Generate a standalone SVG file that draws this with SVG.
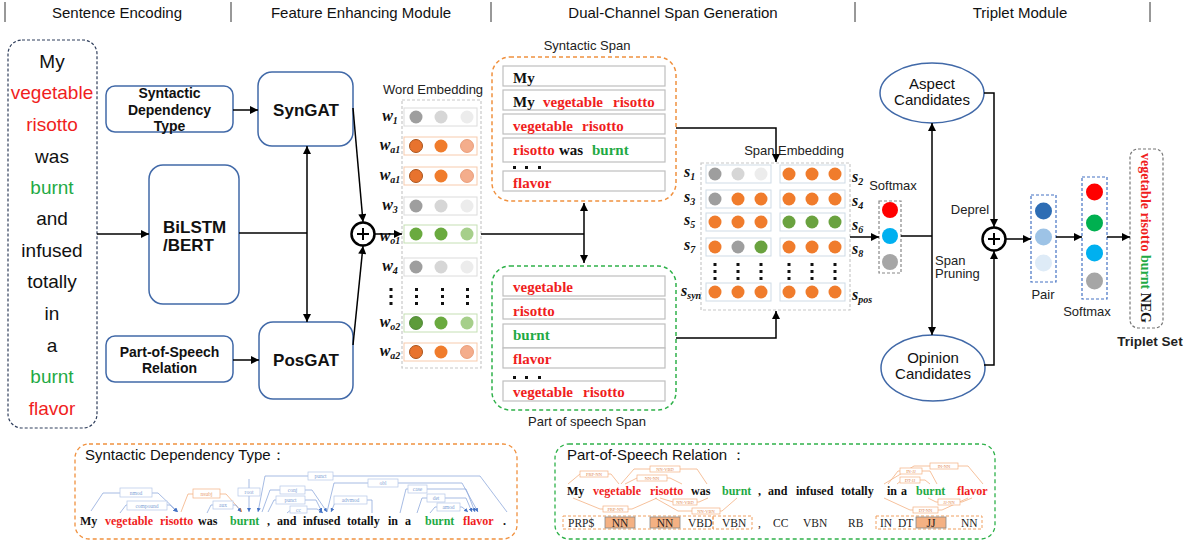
<svg xmlns="http://www.w3.org/2000/svg" width="1193" height="542" viewBox="0 0 1193 542">
<style>
.hdr{font-family:'Liberation Sans',Arial,sans-serif;font-size:15px;fill:#111;text-anchor:middle}
.sep{stroke:#333;stroke-width:1}
.w{font-family:'Liberation Sans',Arial,sans-serif;font-size:19px;text-anchor:middle;fill:#111}
.box{fill:#fff;stroke:#4169a8;stroke-width:1.5}
.bl{font-family:'Liberation Sans',Arial,sans-serif;font-weight:bold;font-size:14px;text-anchor:middle;fill:#111}
.big{font-family:'Liberation Sans',Arial,sans-serif;font-weight:bold;font-size:17px;text-anchor:middle;fill:#111}
.t13{font-family:'Liberation Sans',Arial,sans-serif;font-size:13px;text-anchor:middle;fill:#222}
.t15{font-family:'Liberation Sans',Arial,sans-serif;font-size:15px;text-anchor:middle;fill:#111}
.conn{stroke:#000;stroke-width:1.5;fill:none}
.sp{font-family:'Liberation Serif','Times New Roman',serif;font-weight:bold;font-size:15px;fill:#111}
.row{fill:#fff;stroke:#bfbfbf;stroke-width:1.2}
.wl{font-family:'Liberation Serif','Times New Roman',serif;font-style:italic;font-weight:bold;font-size:16px;text-anchor:middle;fill:#111}
.sl{font-family:'Liberation Serif','Times New Roman',serif;font-style:italic;font-weight:bold;font-size:16px;fill:#111}
.sub{font-size:10px}
.dot{fill:#111}
.g1{fill:#9e9e9e}.g2{fill:#d6d6d6}.g3{fill:#ececec}
.o1{fill:#e8732e;stroke:#a9541c;stroke-width:1}.o2{fill:#f07c2c}.o3{fill:#f4ad8c;stroke:#e5906a;stroke-width:0.8}
.n1{fill:#5d9b3a;stroke:#3e7a25;stroke-width:0.8}.n2{fill:#6aaa3f}.n3{fill:#a6cf8a}
.or{fill:#f07c2c}.gr{fill:#6aa23f}
.rg{fill:#fff;stroke:#dcdcdc;stroke-width:1}
.ro{fill:#fff;stroke:#f8cbad;stroke-width:1}
.rn{fill:#fff;stroke:#c5e0b4;stroke-width:1}
.rs{fill:#fff;stroke:#cfdbe6;stroke-width:1}
.dash{fill:none;stroke:#c8c8c8;stroke-width:1.2;stroke-dasharray:3,2}
.bs{font-family:'Liberation Serif','Times New Roman',serif;font-weight:bold;font-size:12px;fill:#111}
.dep{fill:none;stroke:#8faadc;stroke-width:0.8}
.depo{fill:none;stroke:#f4b183;stroke-width:0.8}
.dbx{fill:#fff;stroke:#b4c7e7;stroke-width:0.7}
.dbo{fill:#fff;stroke:#f4b183;stroke-width:0.7}
.dt{font-family:'Liberation Serif',serif;font-size:5.5px;fill:#7f9fd5;text-anchor:middle}
.dto{font-family:'Liberation Serif',serif;font-size:4.5px;fill:#e08850;text-anchor:middle}
.tag{font-family:'Liberation Serif','Times New Roman',serif;font-size:11.5px;fill:#222}
text.red,tspan.red{fill:#f01e1e}
text.grn,tspan.grn{fill:#1faa45}
text.blk,tspan.blk{fill:#111}
</style>
<defs>
<marker id="ah" viewBox="0 0 10 10" refX="10" refY="5" markerUnits="userSpaceOnUse" markerWidth="9" markerHeight="8" orient="auto-start-reverse"><path d="M0,0 L10,5 L0,10 z" fill="#000"/></marker>
<marker id="ahb" viewBox="0 0 10 10" refX="10" refY="5" markerUnits="userSpaceOnUse" markerWidth="4" markerHeight="4" orient="auto"><path d="M0,0 L10,5 L0,10 z" fill="#4472c4"/></marker>
<marker id="aho" viewBox="0 0 10 10" refX="10" refY="5" markerUnits="userSpaceOnUse" markerWidth="4" markerHeight="4" orient="auto"><path d="M0,0 L10,5 L0,10 z" fill="#ed7d31"/></marker>
</defs>
<rect width="1193" height="542" fill="#fff"/>

<g id="header">
<line class="sep" x1="5" y1="2" x2="5" y2="22"/>
<line class="sep" x1="231" y1="2" x2="231" y2="22"/>
<line class="sep" x1="491" y1="2" x2="491" y2="22"/>
<line class="sep" x1="855" y1="2" x2="855" y2="22"/>
<line class="sep" x1="1150" y1="2" x2="1150" y2="22"/>
<text class="hdr" x="117" y="18">Sentence Encoding</text>
<text class="hdr" x="361" y="18">Feature Enhancing Module</text>
<text class="hdr" x="673" y="18">Dual-Channel Span Generation</text>
<text class="hdr" x="1020" y="18">Triplet Module</text>
</g>

<g id="sentence">
<rect x="8" y="40" width="89" height="388" rx="14" fill="none" stroke="#2f3e5c" stroke-width="1.2" stroke-dasharray="3,2"/>
<text class="w" x="52" y="68">My</text>
<text class="w red" x="52" y="99">vegetable</text>
<text class="w red" x="52" y="131">risotto</text>
<text class="w" x="52" y="163">was</text>
<text class="w grn" x="52" y="194">burnt</text>
<text class="w" x="52" y="225">and</text>
<text class="w" x="52" y="257">infused</text>
<text class="w" x="52" y="288">totally</text>
<text class="w" x="52" y="320">in</text>
<text class="w" x="52" y="352">a</text>
<text class="w grn" x="52" y="383">burnt</text>
<text class="w red" x="52" y="415">flavor</text>
</g>

<g id="sdt">
<rect class="box" x="106" y="86" width="127" height="46" rx="9"/>
<text class="bl" x="169.5" y="98">Syntactic</text>
<text class="bl" x="169.5" y="115">Dependency</text>
<text class="bl" x="169.5" y="131">Type</text>
</g>
<g id="bilstm">
<rect class="box" x="149" y="165" width="90" height="139" rx="14"/>
<text class="big" x="163" y="233" style="text-anchor:start">BiLSTM</text>
<text class="big" x="163" y="251" style="text-anchor:start">/BERT</text>
</g>
<g id="posr">
<rect class="box" x="106" y="336" width="127" height="46" rx="9"/>
<text class="bl" x="169.5" y="357">Part-of-Speech</text>
<text class="bl" x="169.5" y="373">Relation</text>
</g>
<g id="syngat">
<rect class="box" x="258" y="72" width="95" height="74" rx="14"/>
<text class="big" x="306" y="116">SynGAT</text>
</g>
<g id="posgat">
<rect class="box" x="259" y="322" width="94" height="77" rx="14"/>
<text class="big" x="306" y="366">PosGAT</text>
</g>

<g id="plus1">
<circle cx="363" cy="234" r="11.5" fill="#fff" stroke="#000" stroke-width="2.5"/>
<path d="M357,234 H369 M363,228 V240" stroke="#000" stroke-width="2"/>
</g>

<g id="wordemb">
<text class="t13" x="433" y="94">Word Embedding</text>
<rect class="dash" x="402" y="100" width="79" height="268"/>
<rect class="rg" x="404" y="108" width="73" height="18"/>
<circle class="g1" cx="416" cy="117" r="6.5"/><circle class="g2" cx="441" cy="117" r="6.5"/><circle class="g3" cx="467" cy="117" r="6.5"/>
<rect class="ro" x="404" y="137" width="73" height="18"/>
<circle class="o1" cx="416" cy="146" r="6.5"/><circle class="o2" cx="441" cy="146" r="6.5"/><circle class="o3" cx="467" cy="146" r="6.5"/>
<rect class="ro" x="404" y="167" width="73" height="18"/>
<circle class="o1" cx="416" cy="176" r="6.5"/><circle class="o2" cx="441" cy="176" r="6.5"/><circle class="o3" cx="467" cy="176" r="6.5"/>
<rect class="rg" x="404" y="197" width="73" height="18"/>
<circle class="g1" cx="416" cy="206" r="6.5"/><circle class="g2" cx="441" cy="206" r="6.5"/><circle class="g3" cx="467" cy="206" r="6.5"/>
<rect class="rn" x="404" y="225" width="73" height="18"/>
<circle class="n2" cx="416" cy="234" r="6.5"/><circle class="n2" cx="441" cy="234" r="6.5"/><circle class="n3" cx="467" cy="234" r="6.5"/>
<rect class="rg" x="404" y="258" width="73" height="18"/>
<circle class="g1" cx="416" cy="267" r="6.5"/><circle class="g2" cx="441" cy="267" r="6.5"/><circle class="g3" cx="467" cy="267" r="6.5"/>
<g class="dot">
<rect x="389.5" y="288" width="3" height="3"/><rect x="389.5" y="295" width="3" height="3"/><rect x="389.5" y="302" width="3" height="3"/>
<rect x="415" y="288" width="3" height="3"/><rect x="415" y="295" width="3" height="3"/><rect x="415" y="302" width="3" height="3"/>
<rect x="441" y="288" width="3" height="3"/><rect x="441" y="295" width="3" height="3"/><rect x="441" y="302" width="3" height="3"/>
<rect x="466" y="288" width="3" height="3"/><rect x="466" y="295" width="3" height="3"/><rect x="466" y="302" width="3" height="3"/>
</g>
<rect class="rn" x="404" y="314" width="73" height="18"/>
<circle class="n1" cx="416" cy="323" r="6.5"/><circle class="n2" cx="441" cy="323" r="6.5"/><circle class="n3" cx="467" cy="323" r="6.5"/>
<rect class="ro" x="404" y="343" width="73" height="18"/>
<circle class="o1" cx="416" cy="352" r="6.5"/><circle class="o2" cx="441" cy="352" r="6.5"/><circle class="o3" cx="467" cy="352" r="6.5"/>
<text class="wl" x="390" y="121">w<tspan class="sub" dy="3">1</tspan></text>
<text class="wl" x="390" y="150">w<tspan class="sub" dy="3">a1</tspan></text>
<text class="wl" x="390" y="180">w<tspan class="sub" dy="3">a1</tspan></text>
<text class="wl" x="390" y="210">w<tspan class="sub" dy="3">3</tspan></text>
<text class="wl" x="390" y="241">w<tspan class="sub" dy="3">o1</tspan></text>
<text class="wl" x="390" y="271">w<tspan class="sub" dy="3">4</tspan></text>
<text class="wl" x="390" y="327">w<tspan class="sub" dy="3">o2</tspan></text>
<text class="wl" x="390" y="356">w<tspan class="sub" dy="3">a2</tspan></text>
</g>

<g id="synspan">
<text class="t13" x="587" y="50">Syntactic Span</text>
<rect x="492" y="57" width="184" height="144" rx="18" fill="none" stroke="#f0913f" stroke-width="1.5" stroke-dasharray="4,3"/>
<rect class="row" x="503" y="66" width="162" height="20"/>
<rect class="row" x="503" y="90" width="162" height="20"/>
<rect class="row" x="503" y="114" width="162" height="20"/>
<rect class="row" x="503" y="138" width="162" height="24"/>
<rect class="row" x="503" y="171" width="162" height="20"/>
<text class="sp" x="513" y="83">My</text>
<text class="sp" x="513" y="107">My</text><text class="sp red" x="543" y="107">vegetable</text><text class="sp red" x="613" y="107">risotto</text>
<text class="sp red" x="513" y="131">vegetable</text><text class="sp red" x="582" y="131">risotto</text>
<text class="sp red" x="513" y="155">risotto</text><text class="sp" x="559" y="155">was</text><text class="sp grn" x="592" y="155">burnt</text>
<g class="dot"><rect x="513" y="166" width="3" height="3"/><rect x="525" y="166" width="3" height="3"/><rect x="538" y="166" width="3" height="3"/></g>
<text class="sp red" x="513" y="188">flavor</text>
</g>

<g id="posspan">
<rect x="492" y="266" width="184" height="144" rx="18" fill="none" stroke="#2fb14a" stroke-width="1.5" stroke-dasharray="4,3"/>
<rect class="row" x="503" y="276" width="162" height="20"/>
<rect class="row" x="503" y="299" width="162" height="20"/>
<rect class="row" x="503" y="324" width="162" height="24"/>
<rect class="row" x="503" y="348" width="162" height="20"/>
<rect class="row" x="503" y="381" width="162" height="20"/>
<text class="sp red" x="513" y="292">vegetable</text>
<text class="sp red" x="513" y="316">risotto</text>
<text class="sp grn" x="513" y="340">burnt</text>
<text class="sp red" x="513" y="364">flavor</text>
<g class="dot"><rect x="513" y="376" width="3" height="3"/><rect x="525" y="376" width="3" height="3"/><rect x="538" y="376" width="3" height="3"/></g>
<text class="sp red" x="513" y="397">vegetable</text><text class="sp red" x="583" y="397">risotto</text>
<text class="t13" x="587" y="426">Part of speech Span</text>
</g>

<g id="spanemb">
<text class="t13" x="794" y="155">Span Embedding</text>
<rect class="dash" x="701" y="163" width="149" height="147"/>
<rect class="rs" x="706" y="165" width="65" height="18"/><rect class="rs" x="780" y="165" width="65" height="18"/>
<circle class="g1" cx="715" cy="174" r="6.5"/><circle class="g2" cx="738" cy="174" r="6.5"/><circle class="g3" cx="761" cy="174" r="6.5"/>
<circle class="or" cx="789" cy="174" r="6.5"/><circle class="or" cx="812" cy="174" r="6.5"/><circle class="or" cx="835" cy="174" r="6.5"/>
<rect class="rs" x="706" y="190" width="65" height="18"/><rect class="rs" x="780" y="190" width="65" height="18"/>
<circle class="g1" cx="715" cy="199" r="6.5"/><circle class="or" cx="738" cy="199" r="6.5"/><circle class="or" cx="761" cy="199" r="6.5"/>
<circle class="or" cx="789" cy="199" r="6.5"/><circle class="or" cx="812" cy="199" r="6.5"/><circle class="or" cx="835" cy="199" r="6.5"/>
<rect class="rs" x="706" y="213" width="65" height="18"/><rect class="rs" x="780" y="213" width="65" height="18"/>
<circle class="or" cx="715" cy="222" r="6.5"/><circle class="or" cx="738" cy="222" r="6.5"/><circle class="or" cx="761" cy="222" r="6.5"/>
<circle class="gr" cx="789" cy="222" r="6.5"/><circle class="gr" cx="812" cy="222" r="6.5"/><circle class="gr" cx="835" cy="222" r="6.5"/>
<rect class="rs" x="706" y="238" width="65" height="18"/><rect class="rs" x="780" y="238" width="65" height="18"/>
<circle class="or" cx="715" cy="247" r="6.5"/><circle class="g1" cx="738" cy="247" r="6.5"/><circle class="gr" cx="761" cy="247" r="6.5"/>
<circle class="or" cx="789" cy="247" r="6.5"/><circle class="or" cx="812" cy="247" r="6.5"/><circle class="or" cx="835" cy="247" r="6.5"/>
<g class="dot">
<rect x="713.5" y="263" width="3" height="3"/><rect x="713.5" y="270" width="3" height="3"/><rect x="713.5" y="277" width="3" height="3"/>
<rect x="736.5" y="263" width="3" height="3"/><rect x="736.5" y="270" width="3" height="3"/><rect x="736.5" y="277" width="3" height="3"/>
<rect x="759.5" y="263" width="3" height="3"/><rect x="759.5" y="270" width="3" height="3"/><rect x="759.5" y="277" width="3" height="3"/>
<rect x="787.5" y="263" width="3" height="3"/><rect x="787.5" y="270" width="3" height="3"/><rect x="787.5" y="277" width="3" height="3"/>
<rect x="810.5" y="263" width="3" height="3"/><rect x="810.5" y="270" width="3" height="3"/><rect x="810.5" y="277" width="3" height="3"/>
<rect x="833.5" y="263" width="3" height="3"/><rect x="833.5" y="270" width="3" height="3"/><rect x="833.5" y="277" width="3" height="3"/>
</g>
<rect class="rs" x="706" y="283" width="65" height="18"/><rect class="rs" x="780" y="283" width="65" height="18"/>
<circle class="or" cx="715" cy="292" r="6.5"/><circle class="or" cx="738" cy="292" r="6.5"/><circle class="or" cx="761" cy="292" r="6.5"/>
<circle class="or" cx="789" cy="292" r="6.5"/><circle class="or" cx="812" cy="292" r="6.5"/><circle class="or" cx="835" cy="292" r="6.5"/>
<text class="sl" x="684" y="177">s<tspan class="sub" dy="3">1</tspan></text>
<text class="sl" x="684" y="202">s<tspan class="sub" dy="3">3</tspan></text>
<text class="sl" x="684" y="225">s<tspan class="sub" dy="3">5</tspan></text>
<text class="sl" x="684" y="250">s<tspan class="sub" dy="3">7</tspan></text>
<text class="sl" x="681" y="296">s<tspan class="sub" dy="3">syn</tspan></text>
<text class="sl" x="852" y="182">s<tspan class="sub" dy="3">2</tspan></text>
<text class="sl" x="852" y="206">s<tspan class="sub" dy="3">4</tspan></text>
<text class="sl" x="852" y="230">s<tspan class="sub" dy="3">6</tspan></text>
<text class="sl" x="852" y="254">s<tspan class="sub" dy="3">8</tspan></text>
<text class="sl" x="852" y="300">s<tspan class="sub" dy="3">pos</tspan></text>
</g>

<g id="softmax1">
<text class="t13" x="893" y="190">Softmax</text>
<rect x="879" y="201" width="22" height="72" fill="none" stroke="#888" stroke-width="1.2" stroke-dasharray="3,2"/>
<circle cx="890" cy="210" r="8" fill="#ff0000"/>
<circle cx="890" cy="236" r="8" fill="#00b0f0"/>
<circle cx="890" cy="262" r="8" fill="#a6a6a6"/>
</g>

<g id="aspect">
<ellipse cx="932" cy="93" rx="52" ry="30" fill="#fff" stroke="#4169a8" stroke-width="1.5"/>
<text class="t15" x="932" y="89">Aspect</text>
<text class="t15" x="932" y="105">Candidates</text>
</g>
<g id="opinion">
<ellipse cx="933" cy="368" rx="52" ry="33" fill="#fff" stroke="#4169a8" stroke-width="1.5"/>
<text class="t15" x="933" y="363">Opinion</text>
<text class="t15" x="933" y="379">Candidates</text>
</g>
<text class="t13" x="935" y="265" style="text-anchor:start">Span</text>
<text class="t13" x="935" y="278" style="text-anchor:start">Pruning</text>
<text class="t13" x="970" y="214">Deprel</text>

<g id="plus2">
<circle cx="994" cy="239" r="11.5" fill="#fff" stroke="#000" stroke-width="2.5"/>
<path d="M988,239 H1000 M994,233 V245" stroke="#000" stroke-width="2"/>
</g>

<g id="pair">
<rect x="1031" y="195" width="25" height="87" fill="none" stroke="#4472c4" stroke-width="1.2" stroke-dasharray="3,2"/>
<circle cx="1043.5" cy="211" r="8.5" fill="#2e6db4"/>
<circle cx="1043.5" cy="237" r="8.5" fill="#9dc3e6"/>
<circle cx="1043.5" cy="263" r="8.5" fill="#deebf7"/>
<text class="t13" x="1043" y="299">Pair</text>
</g>

<g id="softmax2">
<rect x="1082" y="177" width="25" height="122" fill="none" stroke="#4472c4" stroke-width="1.2" stroke-dasharray="3,2"/>
<circle cx="1094.5" cy="192" r="8.5" fill="#ff0000"/>
<circle cx="1094.5" cy="223" r="8.5" fill="#00b050"/>
<circle cx="1094.5" cy="253" r="8.5" fill="#00b0f0"/>
<circle cx="1094.5" cy="281" r="8.5" fill="#a6a6a6"/>
<text class="t13" x="1087" y="316">Softmax</text>
</g>

<g id="triplet">
<rect x="1130" y="149" width="33" height="179" rx="8" fill="none" stroke="#777" stroke-width="1.2" stroke-dasharray="3,2"/>
<text class="sp" style="font-size:14px" text-anchor="middle" transform="translate(1141,238) rotate(90)"><tspan class="red">vegetable risotto </tspan><tspan class="grn">burnt </tspan><tspan class="blk">NEG</tspan></text>
<text class="t13" x="1150" y="346" style="font-weight:bold;font-size:13.5px">Triplet Set</text>
</g>

<g id="connectors">
<path class="conn" d="M97,234 H149" marker-end="url(#ah)"/>
<path class="conn" d="M239,233 H307"/>
<path class="conn" d="M307,146 V322" marker-start="url(#ah)" marker-end="url(#ah)"/>
<path class="conn" d="M233,110 H258" marker-end="url(#ah)"/>
<path class="conn" d="M233,360 H259" marker-end="url(#ah)"/>
<path class="conn" d="M353,108 L363,222" marker-end="url(#ah)"/>
<path class="conn" d="M353,345 L363,246" marker-end="url(#ah)"/>
<path class="conn" d="M375,234 H402" marker-end="url(#ah)"/>
<path class="conn" d="M481,234 H584"/>
<path class="conn" d="M584,203 V263" marker-start="url(#ah)" marker-end="url(#ah)"/>
<path class="conn" d="M676,128 H776 V162" marker-end="url(#ah)"/>
<path class="conn" d="M676,338 H776 V311" marker-end="url(#ah)"/>
<path class="conn" d="M850,237 H879" marker-end="url(#ah)"/>
<path class="conn" d="M901,236 H932"/>
<path class="conn" d="M932,123 V335" marker-start="url(#ah)" marker-end="url(#ah)"/>
<path class="conn" d="M984,93 H994 V227" marker-end="url(#ah)"/>
<path class="conn" d="M984,365 H994 V251" marker-end="url(#ah)"/>
<path class="conn" d="M1006,239 H1031" marker-end="url(#ah)"/>
<path class="conn" d="M1056,237 H1082" marker-end="url(#ah)"/>
<path class="conn" d="M1107,237 H1130" marker-end="url(#ah)"/>
</g>

<g id="sdt-example">
<rect x="75" y="444" width="442" height="95" rx="14" fill="none" stroke="#f0913f" stroke-width="1.3" stroke-dasharray="4,3"/>
<text x="85" y="460" style="font-family:'Liberation Sans',Arial,sans-serif;font-size:15px;fill:#111">Syntactic Dependency Type：</text>
<path class="dep" d="M91,511 L103,493 L158,493 L178,512" marker-end="url(#ahb)"/>
<path class="dep" d="M120,513 L126,505 L170,505 L177,512" marker-end="url(#ahb)"/>
<path class="depo" d="M181,512 L188,494 L226,494 L242,512" marker-end="url(#aho)"/>
<path class="dep" d="M207,513 L211,505 L236,505 L241,512" marker-end="url(#ahb)"/>
<path class="dep" d="M249,479 V512" marker-end="url(#ahb)"/>
<path class="dep" d="M507,512 L480,476 L265,476 L258,512" marker-end="url(#ahb)"/>
<path class="dep" d="M327,512 L334,483 L462,483 L478,512" marker-end="url(#ahb)"/>
<path class="dep" d="M262,512 L270,490 L312,490 L327,512" marker-end="url(#ahb)"/>
<path class="dep" d="M268,512 L274,500 L316,500 L322,512" marker-end="url(#ahb)"/>
<path class="dep" d="M287,513 L292,509 L317,509 L323,513" marker-end="url(#ahb)"/>
<path class="dep" d="M372,513 L372,500 L336,500 L331,512" marker-end="url(#ahb)"/>
<path class="dep" d="M400,513 L406,489 L466,489 L475,512" marker-end="url(#ahb)"/>
<path class="dep" d="M417,513 L422,498 L466,498 L472,512" marker-end="url(#ahb)"/>
<path class="dep" d="M430,513 L435,507 L462,507 L468,512" marker-end="url(#ahb)"/>
<rect class="dbx" x="120" y="488" width="32" height="9"/><text class="dt" x="136" y="494.5">nmod</text>
<rect class="dbx" x="127" y="501" width="40" height="9"/><text class="dt" x="147" y="507.5">compound</text>
<rect class="dbo" x="193" y="489" width="27" height="9"/><text class="dt" style="fill:#e9a070" x="206.5" y="495.5">nsubj</text>
<rect class="dbx" x="213" y="501" width="20" height="8"/><text class="dt" x="223" y="507">aux</text>
<rect class="dbx" x="238" y="488" width="22" height="8"/><text class="dt" x="249" y="494">root</text>
<rect class="dbx" x="308" y="472" width="25" height="8"/><text class="dt" x="320.5" y="478">punct</text>
<rect class="dbx" x="368" y="479" width="30" height="8"/><text class="dt" x="383" y="485">obl</text>
<rect class="dbx" x="280" y="486" width="25" height="8"/><text class="dt" x="292.5" y="492">conj</text>
<rect class="dbx" x="276" y="496" width="29" height="8"/><text class="dt" x="290.5" y="502">punct</text>
<rect class="dbx" x="290" y="506" width="17" height="7"/><text class="dt" x="298.5" y="511.5">cc</text>
<rect class="dbx" x="334" y="496" width="33" height="8"/><text class="dt" x="350.5" y="502">advmod</text>
<rect class="dbx" x="408" y="485" width="19" height="8"/><text class="dt" x="417.5" y="491">case</text>
<rect class="dbx" x="427" y="494" width="18" height="8"/><text class="dt" x="436" y="500">det</text>
<rect class="dbx" x="437" y="503" width="23" height="8"/><text class="dt" x="448.5" y="509">amod</text>
<text class="bs" x="80" y="525">My</text>
<text class="bs red" x="105" y="525">vegetable</text>
<text class="bs red" x="160" y="525">risotto</text>
<text class="bs" x="198" y="525">was</text>
<text class="bs grn" x="230" y="525">burnt</text>
<text class="bs" x="267" y="525">,</text>
<text class="bs" x="277" y="525">and</text>
<text class="bs" x="303" y="525">infused</text>
<text class="bs" x="347" y="525">totally</text>
<text class="bs" x="388" y="525">in</text>
<text class="bs" x="405" y="525">a</text>
<text class="bs grn" x="425" y="525">burnt</text>
<text class="bs red" x="463" y="525">flavor</text>
<text class="bs" x="503" y="525">.</text>
</g>

<g id="pos-example">
<rect x="555" y="444" width="440" height="95" rx="14" fill="none" stroke="#2fb14a" stroke-width="1.3" stroke-dasharray="4,3"/>
<text x="567" y="460" style="font-family:'Liberation Sans',Arial,sans-serif;font-size:15px;fill:#111">Part-of-Speech Relation ：</text>
<path class="depo" d="M568,484 L580,474 L611,474 L619,484"/>
<path class="depo" d="M621,484 L634,469 L697,469 L707,484"/>
<path class="depo" d="M625,484 L637,478 L670,478 L682,484"/>
<path class="depo" d="M573,498 L600,509 L632,509 L657,498"/>
<path class="depo" d="M660,498 L673,502 L699,502 L708,498"/>
<path class="depo" d="M655,498 L678,511 L722,511 L737,498"/>
<path class="depo" d="M884,484 L914,466 L968,466 L983,484"/>
<path class="depo" d="M888,484 L898,471 L930,471 L937,484"/>
<path class="depo" d="M897,484 L902,480 L925,480 L930,484"/>
<path class="depo" d="M928,498 L936,502 L962,502 L972,498"/>
<path class="depo" d="M884,498 L910,510 L942,510 L968,498"/>
<rect class="dbo" x="580" y="471" width="28" height="6"/><text class="dto" x="594" y="475.5">PRP-NN</text>
<rect class="dbo" x="650" y="466" width="30" height="6"/><text class="dto" x="665" y="470.5">NN-VBD</text>
<rect class="dbo" x="637" y="475" width="30" height="6"/><text class="dto" x="652" y="479.5">NN-NN</text>
<rect class="dbo" x="603" y="506" width="25" height="6"/><text class="dto" x="615.5" y="510.5">PRP-NN</text>
<rect class="dbo" x="673" y="499" width="24" height="6"/><text class="dto" x="685" y="503.5">NN-VBD</text>
<rect class="dbo" x="692" y="508" width="28" height="6"/><text class="dto" x="706" y="512.5">NN-VBN</text>
<rect class="dbo" x="930" y="463" width="28" height="6"/><text class="dto" x="944" y="467.5">IN-NN</text>
<rect class="dbo" x="900" y="468" width="22" height="6"/><text class="dto" x="911" y="472.5">IN-JJ</text>
<rect class="dbo" x="900" y="477" width="20" height="6"/><text class="dto" x="910" y="481.5">DT-JJ</text>
<rect class="dbo" x="938" y="499" width="22" height="6"/><text class="dto" x="949" y="503.5">JJ-NN</text>
<rect class="dbo" x="913" y="507" width="25" height="6"/><text class="dto" x="925.5" y="511.5">DT-NN</text>
<text class="bs" x="567" y="495">My</text>
<text class="bs red" x="593" y="495">vegetable</text>
<text class="bs red" x="650" y="495">risotto</text>
<text class="bs" x="691" y="495">was</text>
<text class="bs grn" x="722" y="495">burnt</text>
<text class="bs" x="758" y="495">,</text>
<text class="bs" x="768" y="495">and</text>
<text class="bs" x="796" y="495">infused</text>
<text class="bs" x="841" y="495">totally</text>
<text class="bs" x="887" y="495">in</text>
<text class="bs" x="901" y="495">a</text>
<text class="bs grn" x="916" y="495">burnt</text>
<text class="bs red" x="957" y="495">flavor</text>
<rect x="563" y="516" width="150" height="13" fill="none" stroke="#f0a060" stroke-width="1" stroke-dasharray="3,2"/>
<rect x="713" y="516" width="39" height="13" fill="none" stroke="#f0a060" stroke-width="1" stroke-dasharray="3,2"/>
<rect x="876" y="516" width="106" height="13" fill="none" stroke="#f0a060" stroke-width="1" stroke-dasharray="3,2"/>
<rect x="605" y="517" width="30" height="11" fill="#f4b183" stroke="#888" stroke-width="0.8"/>
<rect x="650" y="517" width="30" height="11" fill="#f4b183" stroke="#888" stroke-width="0.8"/>
<rect x="916" y="517" width="30" height="11" fill="#f4b183" stroke="#888" stroke-width="0.8"/>
<text class="tag" x="568" y="527">PRP$</text>
<text class="tag" x="620" y="527" text-anchor="middle">NN</text>
<text class="tag" x="665" y="527" text-anchor="middle">NN</text>
<text class="tag" x="688" y="527">VBD</text>
<text class="tag" x="722" y="527">VBN</text>
<text class="tag" x="758" y="527">,</text>
<text class="tag" x="773" y="527">CC</text>
<text class="tag" x="803" y="527">VBN</text>
<text class="tag" x="848" y="527">RB</text>
<text class="tag" x="880" y="527">IN</text>
<text class="tag" x="898" y="527">DT</text>
<text class="tag" x="931" y="527" text-anchor="middle">JJ</text>
<text class="tag" x="961" y="527">NN</text>
</g>
</svg>
